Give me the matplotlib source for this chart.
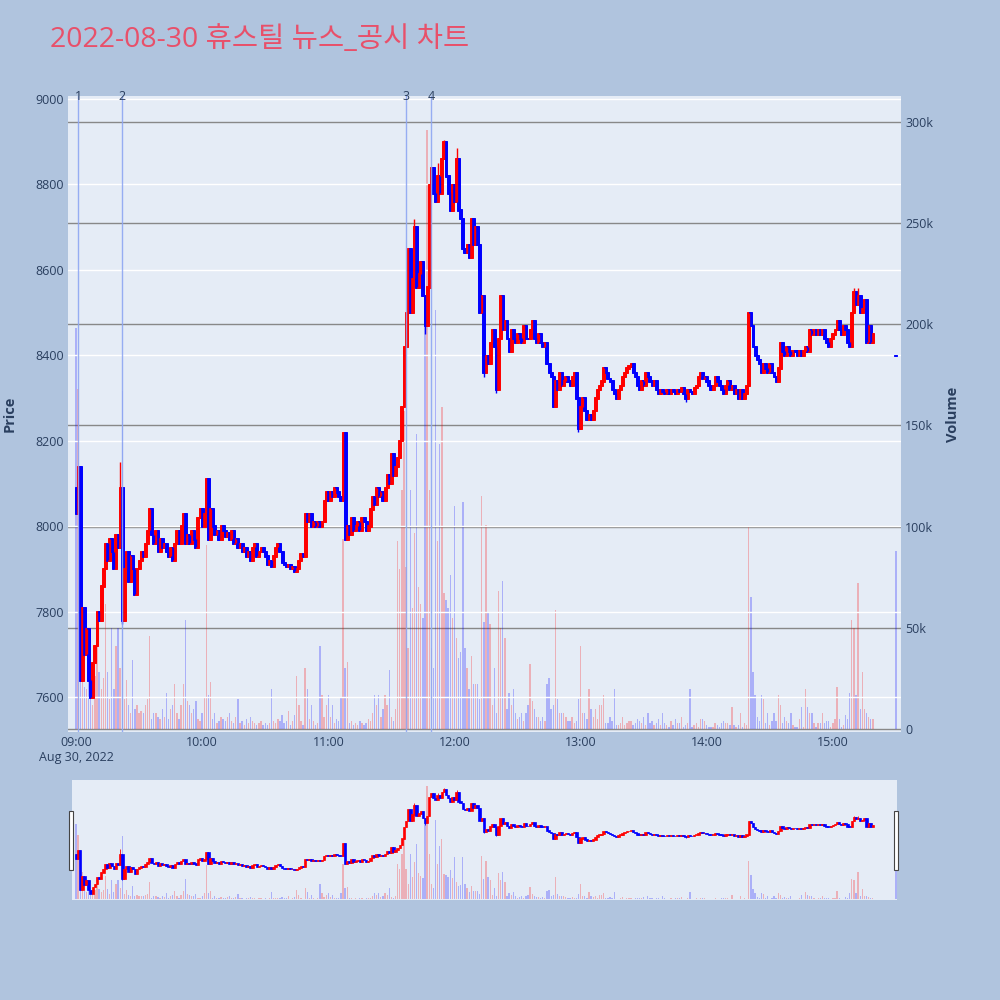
import numpy as np
import pandas as pd
import matplotlib
matplotlib.use('Agg')
from matplotlib import pyplot as plt
import matplotlib.dates as mdates
from matplotlib.patches import Rectangle

plt.rcParams['font.family'] = ['Open Sans', 'Noto Sans CJK KR', 'DejaVu Sans']

# ---- data (1-minute candles, 09:00 ~ 15:19, plus the 15:30 closing print) ----
first_open = 8090
close = [
    8030, 8140, 7640, 7810, 7700, 7760, 7640, 7600, 7680, 7720,
    7800, 7780, 7860, 7900, 7960, 7920, 7970, 7940, 7900, 7980,
    7950, 8090, 7780, 7900, 7940, 7870, 7930, 7900, 7840, 7900,
    7920, 7940, 7930, 7960, 7990, 8040, 7980, 7960, 7990, 7940,
    7970, 7950, 7960, 7940, 7930, 7950, 7920, 7960, 7990, 7960,
    8000, 8030, 7960, 7980, 7960, 7990, 7970, 7950, 8020, 8040,
    8000, 8030, 8110, 7970, 8040, 8000, 7980, 7990, 7970, 8000,
    7990, 7975, 7985, 7970, 7990, 7960, 7970, 7950, 7960, 7940,
    7950, 7930, 7940, 7920, 7950, 7960, 7930, 7940, 7950, 7940,
    7930, 7910, 7920, 7905, 7930, 7950, 7960, 7940, 7915, 7910,
    7905, 7910, 7900, 7905, 7895, 7900, 7920, 7935, 7930, 8030,
    8010, 8030, 8000, 8010, 8000, 8010, 8000, 8010, 8060, 8080,
    8060, 8080, 8070, 8090, 8080, 8070, 8060, 8220, 7970, 8000,
    7980, 8020, 7990, 8000, 8010, 7990, 8020, 8010, 7990, 8000,
    8040, 8070, 8050, 8090, 8070, 8080, 8060, 8090, 8120, 8100,
    8170, 8120, 8140, 8160, 8200, 8280, 8420, 8500, 8650, 8500,
    8580, 8700, 8560, 8590, 8620, 8540, 8470, 8560, 8800, 8840,
    8780, 8760, 8820, 8780, 8860, 8900, 8820, 8780, 8740, 8800,
    8760, 8860, 8740, 8720, 8650, 8640, 8660, 8630, 8720, 8660,
    8700, 8660, 8500, 8540, 8360, 8400, 8380, 8430, 8460, 8420,
    8320, 8440, 8540, 8460, 8480, 8440, 8410, 8460, 8440, 8430,
    8450, 8440, 8430, 8470, 8440, 8440, 8460, 8480, 8440, 8430,
    8450, 8430, 8420, 8430, 8380, 8360, 8350, 8280, 8340, 8320,
    8360, 8330, 8340, 8350, 8340, 8330, 8350, 8360, 8300, 8230,
    8280, 8300, 8270, 8250, 8260, 8250, 8270, 8300, 8320, 8330,
    8340, 8370, 8360, 8345, 8340, 8320, 8310, 8300, 8320, 8330,
    8350, 8360, 8370, 8375, 8380, 8360, 8350, 8330, 8320, 8340,
    8330, 8360, 8350, 8340, 8330, 8340, 8320, 8310, 8320, 8315,
    8310, 8320, 8310, 8320, 8315, 8310, 8320, 8315, 8325, 8310,
    8300, 8320, 8315, 8310, 8325, 8330, 8350, 8360, 8345, 8350,
    8340, 8330, 8320, 8330, 8350, 8340, 8330, 8320, 8310, 8330,
    8340, 8320, 8330, 8310, 8320, 8300, 8320, 8300, 8310, 8330,
    8500, 8470, 8420, 8400, 8390, 8380, 8360, 8380, 8370, 8360,
    8380, 8360, 8350, 8340, 8370, 8430, 8410, 8400, 8420, 8410,
    8400, 8410, 8410, 8400, 8410, 8400, 8410, 8420, 8410, 8460,
    8450, 8460, 8450, 8460, 8450, 8460, 8440, 8430, 8420, 8440,
    8450, 8460, 8480, 8460, 8450, 8470, 8460, 8430, 8420, 8500,
    8550, 8520, 8540, 8500, 8510, 8530, 8430, 8470, 8430, 8450,
]
# volume in thousands of shares
volume_k = [
    198, 168, 25, 72, 21, 20, 50, 15, 12, 26,
    41, 28, 20, 25, 62, 28, 15, 50, 20, 41,
    50, 30, 167, 15, 24, 12, 8, 34, 10, 12,
    8, 9, 8, 12, 15, 46, 5, 8, 8, 6,
    5, 10, 6, 18, 5, 10, 12, 22, 8, 5,
    12, 22, 54, 14, 12, 8, 10, 14, 5, 4,
    8, 16, 91, 17, 23, 5, 8, 3, 4, 6,
    5, 4, 6, 8, 4, 3, 6, 15, 3, 4,
    2, 5, 3, 6, 4, 3, 2, 3, 4, 2,
    3, 2, 3, 20, 4, 3, 5, 4, 7, 3,
    4, 9, 2, 4, 7, 26, 12, 4, 2, 30,
    20, 5, 12, 4, 2, 3, 41, 17, 6, 12,
    17, 6, 12, 3, 5, 4, 16, 94, 30, 33,
    3, 4, 2, 3, 2, 4, 3, 2, 3, 5,
    4, 8, 17, 12, 17, 6, 10, 17, 12, 29,
    6, 4, 10, 93, 79, 118, 157, 80, 40, 118,
    60, 97, 146, 70, 62, 55, 200, 296, 118, 40,
    30, 207, 93, 141, 159, 67, 64, 60, 76, 55,
    110, 45, 35, 38, 112, 40, 30, 20, 36, 22,
    22, 22, 15, 115, 53, 101, 58, 52, 12, 30,
    8, 68, 50, 73, 45, 10, 18, 12, 20, 8,
    5, 6, 8, 4, 8, 12, 32, 14, 10, 6,
    6, 4, 6, 4, 22, 25, 10, 12, 59, 15,
    8, 8, 8, 6, 4, 4, 6, 3, 4, 15,
    41, 8, 8, 5, 20, 10, 6, 10, 5, 12,
    12, 17, 3, 3, 6, 4, 20, 2, 2, 3,
    6, 2, 3, 4, 4, 2, 3, 5, 4, 3,
    6, 2, 8, 3, 4, 2, 3, 5, 2, 8,
    3, 2, 1, 4, 2, 5, 3, 3, 6, 1,
    2, 3, 20, 1, 2, 3, 1, 5, 5, 4,
    2, 1, 1, 1, 3, 2, 1, 3, 4, 3,
    3, 2, 11, 2, 1, 2, 8, 1, 3, 2,
    100, 65, 28, 17, 6, 4, 17, 15, 3, 8,
    2, 4, 8, 4, 17, 12, 3, 6, 4, 3,
    8, 2, 1, 1, 5, 11, 1, 20, 11, 8,
    8, 3, 1, 3, 3, 8, 3, 4, 4, 1,
    3, 5, 21, 5, 1, 2, 7, 5, 18, 54,
    50, 17, 72, 10, 28, 10, 8, 6, 5, 5,
]
# extra wick extremes (minute index -> price)
wick_high = {21: 8150, 154: 8180, 161: 8720, 172: 8850, 175: 8905, 181: 8886, 370: 8558, 372: 8558}
wick_low = {22: 7770, 166: 8450, 194: 8350, 200: 8312, 239: 8220, 290: 8290}
close_time = '2022-08-30 15:30'
close_price = 8400
close_volume_k = 88

news_times = ['2022-08-30 09:01', '2022-08-30 09:22', '2022-08-30 11:37', '2022-08-30 11:49']
news_labels = ['1', '2', '3', '4']

price_ticks = [7600, 7800, 8000, 8200, 8400, 8600, 8800, 9000]
vol_ticks = [0, 50000, 100000, 150000, 200000, 250000, 300000]
vol_ticklabels = ['0', '50k', '100k', '150k', '200k', '250k', '300k']

RED = '#ff0000'
BLUE = '#0000ff'
TXT = '#2a3f5f'

# ---- build candle table ----
times = pd.date_range('2022-08-30 09:00', periods=len(close), freq='min')
times = times.append(pd.DatetimeIndex([close_time]))
c = np.array(close + [close_price], dtype=float)
o = np.concatenate([[first_open], c[:-2], [close_price]])
h = np.maximum(o, c)
l = np.minimum(o, c)
for k, v in wick_high.items():
    h[k] = max(h[k], v)
for k, v in wick_low.items():
    l[k] = min(l[k], v)
vol = np.array(volume_k + [close_volume_k], dtype=float) * 1000
x = mdates.date2num(times.to_pydatetime())
up = c > o
cols = np.where(up, RED, BLUE)

MIN = 1.0 / 1440
t0 = mdates.date2num(pd.Timestamp('2022-08-30 09:00').to_pydatetime())


def draw(axv, axp, body_w, wick_lw, edge_lw, vol_w):
    axv.bar(x, vol, width=vol_w * MIN, color=cols, alpha=0.25, linewidth=0)
    axp.vlines(x, l, h, colors=cols, linewidth=wick_lw)
    axp.bar(x, np.abs(c - o) + 3, bottom=np.minimum(o, c) - 1.5,
            width=body_w * MIN, color=cols, edgecolor=cols, linewidth=edge_lw)


fig = plt.figure(figsize=(10, 10), dpi=100)
fig.patch.set_facecolor('#b0c4de')

# ---- main chart ----
axv = fig.add_axes([0.068, 0.268, 0.833, 0.636])
axv.set_facecolor('#e5ecf6')
axp = axv.twinx()
draw(axv, axp, 1.4, 1.0, 0.7, 0.65)

axv.set_xlim(t0 - 3.8 * MIN, t0 + 392.4 * MIN)
axv.set_ylim(-1483, 312850)
axp.set_ylim(7518, 9007)

axv.yaxis.tick_right()
axv.set_yticks(vol_ticks)
axv.set_yticklabels(vol_ticklabels)
axv.grid(axis='y', color='#888888', linewidth=1)
axv.set_axisbelow(True)
axp.yaxis.tick_left()
axp.set_yticks(price_ticks)
axp.grid(axis='y', color='white', linewidth=1)
axp.set_axisbelow(True)

axv.xaxis.set_major_locator(mdates.HourLocator())
axv.xaxis.set_major_formatter(mdates.DateFormatter('%H:%M'))
for a in (axv, axp):
    for s in a.spines.values():
        s.set_visible(False)
    a.tick_params(length=0, labelsize=9, labelcolor=TXT, pad=3)

for t, lab in zip(news_times, news_labels):
    xt = mdates.date2num(pd.Timestamp(t).to_pydatetime())
    axp.axvline(xt, color='#8ea6f2', linewidth=1.0, alpha=0.9)
    axp.text(xt, 1.0, lab, transform=axp.get_xaxis_transform(), ha='center', va='center',
             fontsize=9, color=TXT)

fig.text(0.010, 1 - 0.414, 'Price', rotation=90, ha='center', va='center',
         fontsize=10.5, fontweight='bold', color=TXT)
fig.text(0.953, 1 - 0.414, 'Volume', rotation=90, ha='center', va='center',
         fontsize=10.5, fontweight='bold', color=TXT)
fig.text(0.076, 1 - 0.758, 'Aug 30, 2022', ha='center', va='center', fontsize=9, color=TXT)

fig.text(0.05, 1 - 0.040, '2022-08-30 휴스틸 뉴스_공시 차트', ha='left', va='center',
         fontsize=20.5, color='#e8506a', family=['Open Sans', 'Noto Sans CJK KR'])

# ---- range slider ----
asv = fig.add_axes([0.072, 0.100, 0.825, 0.120])
asv.set_facecolor('#e5ecf6')
asp = asv.twinx()
draw(asv, asp, 1.2, 0.6, 0.5, 0.6)
asv.set_xlim(t0 - 1.9 * MIN, t0 + 390.5 * MIN)
asv.set_ylim(-1483, 312850)
asp.set_ylim(7518, 9007)
for a in (asv, asp):
    a.set_xticks([])
    a.set_yticks([])
    for s in a.spines.values():
        s.set_visible(False)

for hx in (0.069, 0.894):
    fig.patches.append(Rectangle((hx, 1 - 0.870), 0.004, 0.059, transform=fig.transFigure,
                                 facecolor='white', edgecolor='#444444', linewidth=0.8))

fig.savefig('out.png', dpi=100, facecolor=fig.get_facecolor())
